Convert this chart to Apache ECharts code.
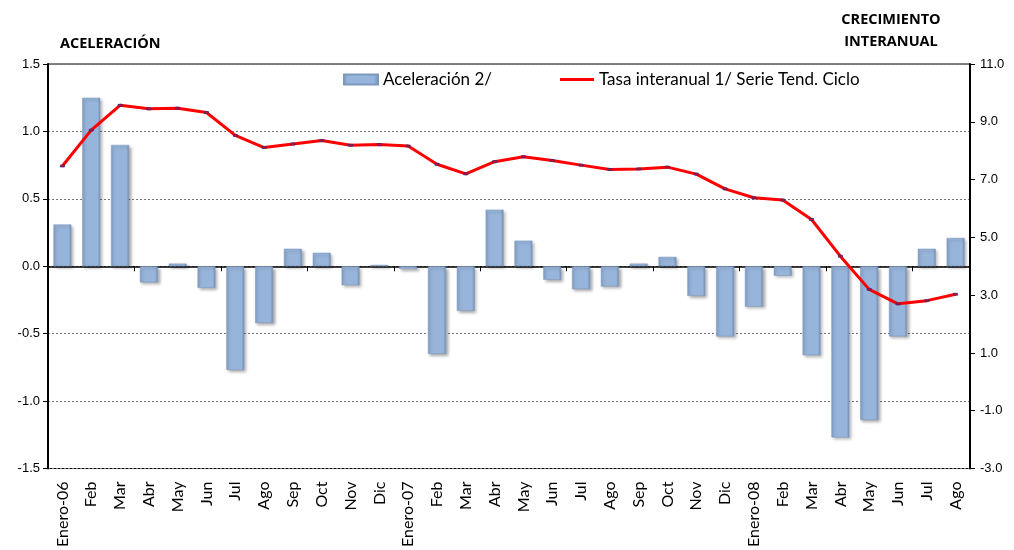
<!DOCTYPE html>
<html>
<head>
<meta charset="utf-8">
<script src="https://cdn.jsdelivr.net/npm/echarts@6/dist/echarts.min.js"></script>
<style>
  html, body { margin: 0; padding: 0; background: #fff; }
  #chart { width: 1014px; height: 550px; }
</style>
</head>
<body>
<div id="chart"></div>
<script>
// meses (eje de categorías)
const meses = [
  'Enero-06', 'Feb', 'Mar', 'Abr', 'May', 'Jun', 'Jul', 'Ago', 'Sep', 'Oct', 'Nov', 'Dic',
  'Enero-07', 'Feb', 'Mar', 'Abr', 'May', 'Jun', 'Jul', 'Ago', 'Sep', 'Oct', 'Nov', 'Dic',
  'Enero-08', 'Feb', 'Mar', 'Abr', 'May', 'Jun', 'Jul', 'Ago'
]

// Aceleración 2/ (eje izquierdo)
const aceleracion = [
  0.31, 1.25, 0.90, -0.12, 0.02, -0.16, -0.77, -0.42, 0.13, 0.10, -0.14, 0.01,
  -0.02, -0.65, -0.33, 0.42, 0.19, -0.10, -0.17, -0.15, 0.02, 0.07, -0.22, -0.52,
  -0.30, -0.07, -0.66, -1.27, -1.14, -0.52, 0.13, 0.21
]

// Tasa interanual 1/ Serie Tend. Ciclo (eje derecho)
const tasaInteranual = [
  7.47, 8.71, 9.57, 9.45, 9.47, 9.32, 8.53, 8.11, 8.23, 8.35, 8.19, 8.21,
  8.16, 7.53, 7.20, 7.62, 7.79, 7.66, 7.50, 7.35, 7.37, 7.43, 7.19, 6.68,
  6.37, 6.29, 5.62, 4.35, 3.20, 2.70, 2.81, 3.03
]

const nombreBarras = 'Aceleración 2/'
const nombreLinea = 'Tasa interanual 1/ Serie Tend. Ciclo'

let mychart = echarts.init(document.getElementById('chart'))

let textoLeyenda = { fontFamily: 'Lato', fontSize: 17, color: '#000' }

let option = {
  animation: false,
  backgroundColor: '#fff',
  title: [
    {
      text: 'ACELERACIÓN',
      left: 60,
      top: 36,
      padding: 0,
      textStyle: { fontFamily: 'Open Sans', fontSize: 14.5, fontWeight: 'bold', color: '#000' }
    },
    {
      text: 'CRECIMIENTO\nINTERANUAL',
      left: 891,
      textAlign: 'center',
      top: 9,
      padding: 0,
      textStyle: { fontFamily: 'Open Sans', fontSize: 14.5, fontWeight: 'bold', color: '#000', lineHeight: 22 }
    }
  ],
  // dos leyendas separadas para colocar cada una donde está en el original
  legend: [
    {
      left: 343,
      top: 71,
      padding: 0,
      itemWidth: 34,
      itemHeight: 10,
      textStyle: textoLeyenda,
      data: [{ name: nombreBarras, icon: 'rect' }]
    },
    {
      left: 560,
      top: 71,
      padding: 0,
      itemWidth: 34,
      itemHeight: 3,
      textStyle: textoLeyenda,
      data: [{ name: nombreLinea, icon: 'rect', itemStyle: { color: '#ff0000', borderWidth: 0 } }]
    }
  ],
  grid: {
    left: 48,
    right: 44,
    top: 64,
    bottom: 81,
    show: true,
    borderColor: '#000',
    borderWidth: 1
  },
  xAxis: [
    {
      type: 'category',
      data: meses,
      position: 'bottom',
      axisLine: { onZero: true, lineStyle: { color: '#000', width: 1.5 } },
      axisTick: { show: true, length: 5, lineStyle: { color: '#000' } },
      axisLabel: { show: false }
    },
    {
      type: 'category',
      data: meses,
      position: 'bottom',
      axisLine: { show: false, onZero: false },
      axisTick: { show: false },
      axisLabel: {
        rotate: 90,
        margin: 13,
        interval: 0,
        fontFamily: 'Lato',
        fontSize: 16,
        color: '#000'
      }
    }
  ],
  yAxis: [
    {
      type: 'value',
      position: 'left',
      min: -1.5,
      max: 1.5,
      interval: 0.5,
      axisLine: { show: true, lineStyle: { color: '#000', width: 2 } },
      axisTick: { show: true, length: 5, lineStyle: { color: '#000' } },
      axisLabel: {
        formatter: v => v.toFixed(1),
        fontFamily: 'Liberation Sans',
        fontSize: 13,
        color: '#000',
        margin: 8
      },
      splitLine: { show: true, lineStyle: { color: '#777', type: [2, 2], width: 1 } }
    },
    {
      type: 'value',
      position: 'right',
      min: -3,
      max: 11,
      interval: 2,
      axisLine: { show: true, lineStyle: { color: '#000', width: 2 } },
      axisTick: { show: true, length: 5, lineStyle: { color: '#000' } },
      axisLabel: {
        formatter: v => v.toFixed(1),
        fontFamily: 'Liberation Sans',
        fontSize: 13,
        color: '#000',
        margin: 10
      },
      splitLine: { show: false }
    }
  ],
  series: [
    {
      name: nombreBarras,
      type: 'bar',
      xAxisIndex: 0,
      yAxisIndex: 0,
      barWidth: '62%',
      data: aceleracion,
      itemStyle: {
        color: new echarts.graphic.LinearGradient(0, 0, 1, 0, [
          { offset: 0, color: '#7f9bc4' },
          { offset: 0.15, color: '#97b4da' },
          { offset: 0.85, color: '#97b4da' },
          { offset: 1, color: '#7390bb' }
        ]),
        borderColor: '#7d98bf',
        borderWidth: 0.5,
        shadowColor: 'rgba(0,0,0,0.35)',
        shadowBlur: 3,
        shadowOffsetX: 2,
        shadowOffsetY: 2
      }
    },
    {
      name: nombreLinea,
      type: 'line',
      xAxisIndex: 0,
      yAxisIndex: 1,
      data: tasaInteranual,
      symbol: 'rect',
      symbolSize: [4, 2],
      itemStyle: { color: '#ff0000', borderColor: '#1f2f8f', borderWidth: 0.5 },
      lineStyle: { color: '#ff0000', width: 3 },
      z: 5
    }
  ]
}

mychart.setOption(option)
</script>
</body>
</html>
